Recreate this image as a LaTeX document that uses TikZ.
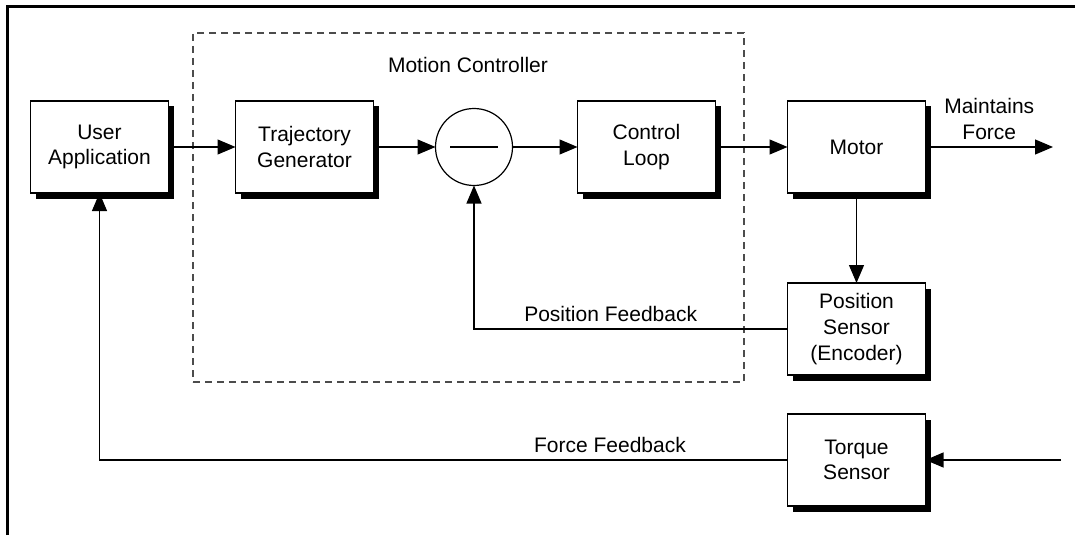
\documentclass[tikz,border=0pt]{standalone}
\usepackage{fontspec}
\setmainfont{Liberation Sans}
\usetikzlibrary{arrows.meta,positioning,shadows}
\newcommand{\blkfont}{\fontsize{10.5}{12.8}\selectfont}
\tikzset{%
  % blocks
  blk/.style={draw, fill=white, align=center, font=\blkfont, outer sep=0pt,
    minimum width=69pt, minimum height=46pt, line width=0.6pt,
    drop shadow={shadow xshift=2.75pt, shadow yshift=-2.75pt, fill=black, opacity=1}},
  sumnode/.style={draw, circle, fill=white, outer sep=0pt, minimum size=38.5pt, line width=0.6pt},
  group/.style={draw=black!70, dash pattern=on 3.5pt off 2.5pt, line width=0.6pt,
    minimum width=275.5pt, minimum height=174.5pt},
  frame/.style={line width=1.5pt},
  % edge styles
  sig/.style={-{Triangle[length=9pt,width=7.5pt]}, line width=0.6pt},
  lbl/.style={font=\blkfont, align=center},
}

\begin{document}
\begin{tikzpicture}[x=0.5pt, y=-0.5pt]
  \useasboundingbox (0,0) rectangle (1075,535);
  \draw[frame] (7,535) -- (7,7) -- (1075,7);

  % motion controller group
  \node[group] (mc) at (468.5,207.5) {};
  \node[lbl] (mctitle) at (468,65) {Motion Controller};

  \node[blk] (ua) at (99.5,147) {User\\Application};
  \node[blk, right=33.5pt of ua] (tg) {Trajectory\\Generator};
  \node[sumnode, right=31pt of tg] (sum) {};
  \draw[line width=0.6pt] ([xshift=-12pt]sum.center) -- ([xshift=12pt]sum.center);
  \node[blk, right=32.5pt of sum] (cl) {Control\\Loop};
  \node[blk, right=36pt of cl] (mot) {Motor};
  \node[blk, below=45pt of mot] (ps) {Position\\Sensor\\(Encoder)};
  \node[blk, below=19.5pt of ps] (ts) {Torque\\Sensor};

  \coordinate[right=63.75pt of mot.east] (fout);
  \coordinate[right=67.75pt of ts.east] (tqin);

  \draw[sig] (ua) -- (tg);
  \draw[sig] (tg) -- (sum);
  \draw[sig] (sum) -- (cl);
  \draw[sig] (cl) -- (mot);
  \draw[sig] (mot) -- node[lbl, above]{Maintains\\Force} (fout);
  \draw[sig] (mot) -- (ps);
  \draw[sig] (ps) -| node[lbl, above, pos=0.282]{Position Feedback} (sum);
  \draw[sig] (tqin) -- (ts);
  \draw[sig] (ts) -| node[lbl, above, pos=0.129]{Force Feedback} (ua);
\end{tikzpicture}
\end{document}
